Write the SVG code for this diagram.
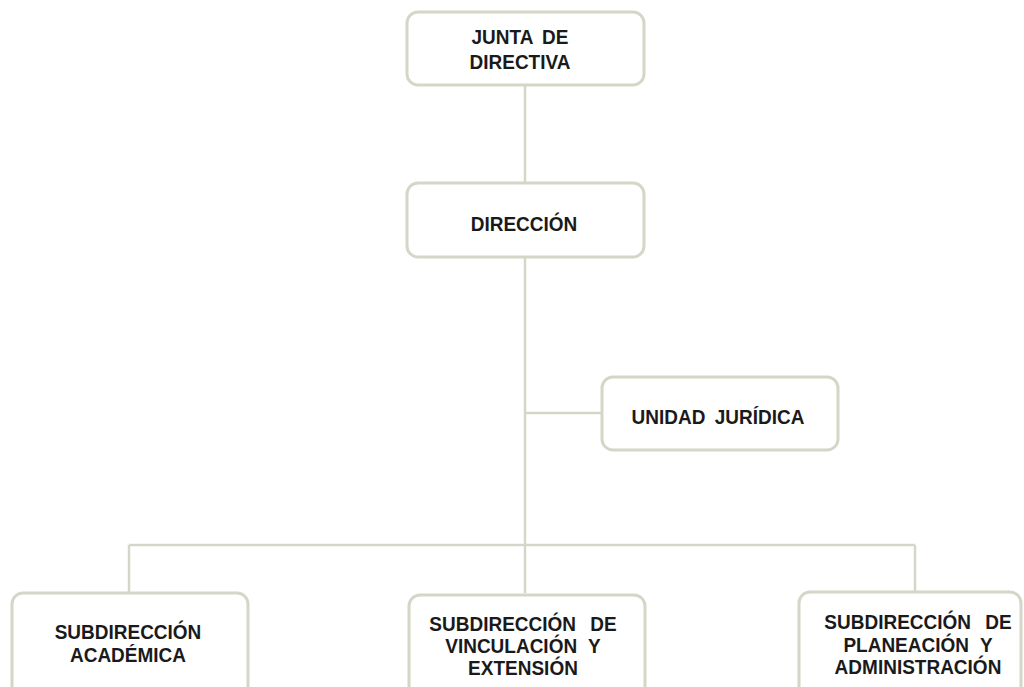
<svg xmlns="http://www.w3.org/2000/svg" width="1024" height="687" viewBox="0 0 1024 687">
<style>
.box{fill:#ffffff;stroke:#d6d6c8;stroke-width:3}
.ln{fill:none;stroke:#d6d6c8;stroke-width:2.5}
.t{font-family:"Liberation Sans",Arial,sans-serif;font-weight:bold;font-size:19px;fill:#1a1a1a;text-anchor:middle;transform-box:fill-box;transform-origin:center;transform:scaleY(1.1)}
</style>
<rect width="1024" height="687" fill="#ffffff"/>
<g id="connectors">
<path class="ln" d="M525 85V593"/>
<path class="ln" d="M525 413H602"/>
<path class="ln" d="M129 545H915"/>
<path class="ln" d="M129 545V593"/>
<path class="ln" d="M915 545V592"/>
</g>
<g id="junta">
<rect class="box" x="407" y="12" width="237" height="73" rx="11"/>
<text class="t" x="520" y="43" word-spacing="4">JUNTA DE</text>
<text class="t" x="520" y="68">DIRECTIVA</text>
</g>
<g id="direccion">
<rect class="box" x="407" y="183" width="237" height="74" rx="11"/>
<text class="t" x="524" y="230">DIRECCIÓN</text>
</g>
<g id="unidad">
<rect class="box" x="602" y="377" width="236" height="73" rx="11"/>
<text class="t" x="718" y="423" word-spacing="4">UNIDAD JURÍDICA</text>
</g>
<g id="academica">
<rect class="box" x="12" y="593" width="236" height="110" rx="11"/>
<text class="t" x="128" y="638">SUBDIRECCIÓN</text>
<text class="t" x="128" y="661">ACADÉMICA</text>
</g>
<g id="vinculacion">
<rect class="box" x="409" y="595" width="236" height="110" rx="11"/>
<text class="t" x="523" y="630" word-spacing="9">SUBDIRECCIÓN DE</text>
<text class="t" x="523" y="652" word-spacing="6">VINCULACIÓN Y</text>
<text class="t" x="523" y="674">EXTENSIÓN</text>
</g>
<g id="planeacion">
<rect class="box" x="799" y="592" width="222" height="110" rx="11"/>
<text class="t" x="918" y="628" word-spacing="9">SUBDIRECCIÓN DE</text>
<text class="t" x="918" y="651" word-spacing="6">PLANEACIÓN Y</text>
<text class="t" x="918" y="673">ADMINISTRACIÓN</text>
</g>
</svg>
